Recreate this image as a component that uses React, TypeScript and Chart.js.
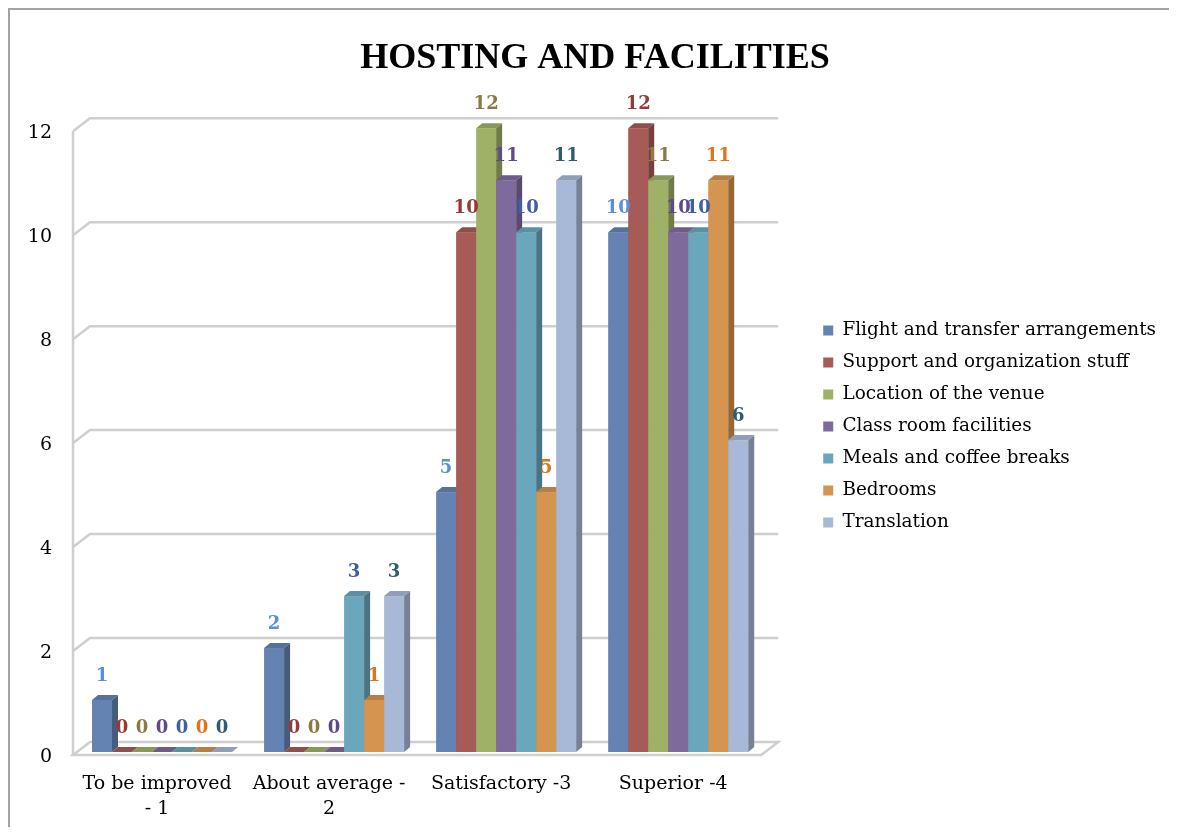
import React, { useEffect, useRef, useState } from 'react';
import { Chart, registerables } from 'chart.js';

Chart.register(...registerables);

// Rating categories (x axis), one bar group each
const categories: string[][] = [['To be improved', '- 1'], ['About average -', '2'], ['Satisfactory -3'], ['Superior -4']];

const seriesNames = [
  'Flight and transfer arrangements',
  'Support and organization stuff',
  'Location of the venue',
  'Class room facilities',
  'Meals and coffee breaks',
  'Bedrooms',
  'Translation',
];

// Number of answers per rating
const flight = [1, 2, 5, 10];
const support = [0, 0, 10, 12];
const venue = [0, 0, 12, 11];
const classRoom = [0, 0, 11, 10];
const meals = [0, 3, 10, 10];
const bedrooms = [0, 1, 5, 11];
const translation = [0, 3, 11, 6];

const yTicks = [0, 2, 4, 6, 8, 10, 12];

const faceColors = ['#6483b3', '#a65b56', '#9fb166', '#7f6a9e', '#6aa6bc', '#d5944f', '#a8b8d7'];
const labelColors = ['#5b8fdc', '#943a37', '#8c7a45', '#5f4a87', '#3f60a0', '#e2731d', '#2e5d70'];

const SERIF = "'DejaVu Serif', serif";
const TEXT_SIZE = 19;
const LEGEND_SIZE = 18.4;
const LEGEND_PAD = 32 - LEGEND_SIZE;

// page geometry of the plot (front bar plane) and the legend
const PLOT_LEFT = 76;
const PLOT_RIGHT = 764;
const LEGEND_LEFT = 823 - LEGEND_PAD;
const TITLE_CENTER = 595;

// bar extrusion (side/top faces)
const BAR_DX = 6;
const BAR_DY = 5;
// wall planes relative to the bar plane
const FRONT = { x: -3, y: 3 };
const BACK = { x: 14, y: -10 };

function shade(hex: string, f: number): string {
  const n = parseInt(hex.slice(1), 16);
  const r = Math.round(((n >> 16) & 255) * f);
  const g = Math.round(((n >> 8) & 255) * f);
  const b = Math.round((n & 255) * f);
  return `rgb(${r},${g},${b})`;
}

const boxes3d = {
  id: 'boxes3d',
  beforeDatasetsDraw(chart: any) {
    const { ctx, chartArea, scales } = chart;
    const { left, right } = chartArea;
    const y = scales.y;
    const y0 = y.getPixelForValue(0);
    const yTop = y.getPixelForValue(yTicks[yTicks.length - 1]);

    ctx.save();
    ctx.strokeStyle = '#cfcfcf';
    ctx.lineWidth = 2.5;

    // floor
    ctx.beginPath();
    ctx.moveTo(left + FRONT.x, y0 + FRONT.y);
    ctx.lineTo(right + FRONT.x, y0 + FRONT.y);
    ctx.lineTo(right + BACK.x, y0 + BACK.y);
    ctx.lineTo(left + BACK.x, y0 + BACK.y);
    ctx.closePath();
    ctx.fillStyle = '#ffffff';
    ctx.fill();
    ctx.stroke();

    // gridlines on the side and back walls
    yTicks.filter((v) => v > 0).forEach((v) => {
      const py = y.getPixelForValue(v);
      ctx.beginPath();
      ctx.moveTo(left + FRONT.x, py + FRONT.y);
      ctx.lineTo(left + BACK.x, py + BACK.y);
      ctx.lineTo(right + BACK.x, py + BACK.y);
      ctx.stroke();
    });

    // front edge of the side wall
    ctx.beginPath();
    ctx.moveTo(left + FRONT.x, yTop + FRONT.y);
    ctx.lineTo(left + FRONT.x, y0 + FRONT.y);
    ctx.stroke();

    // bars, left to right so each front face covers the previous side face
    const n = chart.data.datasets.length;
    const count = chart.data.labels.length;
    for (let j = 0; j < count; j++) {
      for (let i = 0; i < n; i++) {
        const el = chart.getDatasetMeta(i).data[j];
        const { x, y: top, base, width } = el.getProps(['x', 'y', 'base', 'width'], true);
        const l = x - width / 2;
        const r = x + width / 2;
        const c = faceColors[i];
        ctx.fillStyle = c;
        ctx.fillRect(l, top, width, base - top);
        // side
        ctx.beginPath();
        ctx.moveTo(r, top);
        ctx.lineTo(r + BAR_DX, top - BAR_DY);
        ctx.lineTo(r + BAR_DX, base - BAR_DY);
        ctx.lineTo(r, base);
        ctx.closePath();
        ctx.fillStyle = shade(c, 0.7);
        ctx.fill();
        // top
        ctx.beginPath();
        ctx.moveTo(l, top);
        ctx.lineTo(l + BAR_DX, top - BAR_DY);
        ctx.lineTo(r + BAR_DX, top - BAR_DY);
        ctx.lineTo(r, top);
        ctx.closePath();
        ctx.fillStyle = shade(c, 0.86);
        ctx.fill();
      }
    }

    // value labels
    ctx.font = `bold 18px ${SERIF}`;
    ctx.textAlign = 'center';
    ctx.textBaseline = 'middle';
    for (let i = 0; i < n; i++) {
      const ds = chart.data.datasets[i];
      chart.getDatasetMeta(i).data.forEach((el: any, j: number) => {
        ctx.fillStyle = labelColors[i];
        ctx.fillText(String(ds.data[j]), el.x, el.y - 24);
      });
    }
    ctx.restore();
    return false;
  },
};

function legendWidth(): number {
  const m = document.createElement('canvas').getContext('2d')!;
  m.font = `${LEGEND_SIZE}px ${SERIF}`;
  const textW = Math.max(...seriesNames.map((s) => m.measureText(s).width));
  // padding + box + gap + text + the legend's own extra 10px
  return LEGEND_PAD + 10 + LEGEND_SIZE / 2 + textW + 10;
}

export default function App() {
  const ref = useRef<HTMLCanvasElement>(null);
  const [lw] = useState(legendWidth);
  // canvas origin (page x) chosen so the title centres over the whole figure
  const x0 = Math.round(2 * TITLE_CENTER - LEGEND_LEFT - lw);
  const canvasW = Math.round(LEGEND_LEFT + lw - x0);

  useEffect(() => {
    if (!ref.current) return;
    const series = [flight, support, venue, classRoom, meals, bedrooms, translation];

    const chart = new Chart(ref.current, {
      type: 'bar',
      data: {
        labels: categories,
        datasets: series.map((d, i) => ({
          label: seriesNames[i],
          data: d,
          backgroundColor: faceColors[i],
          borderWidth: 0,
          categoryPercentage: 0.814,
          barPercentage: 1,
        })),
      },
      options: {
        responsive: false,
        animation: false,
        layout: { padding: { left: 0, right: 0, top: 16, bottom: 0 } },
        plugins: {
          tooltip: { enabled: false },
          title: {
            display: true,
            text: 'HOSTING AND FACILITIES',
            color: '#000',
            font: { family: "'Liberation Serif', serif", size: 36, weight: 'bold', lineHeight: 1.2 },
            padding: { top: 11, bottom: 48 },
          },
          legend: {
            position: 'right',
            maxWidth: 600,
            labels: {
              boxWidth: 10,
              boxHeight: 10,
              padding: LEGEND_PAD,
              color: '#000',
              font: { family: SERIF, size: LEGEND_SIZE },
            },
          },
        },
        scales: {
          x: {
            offset: true,
            grid: { display: false, drawTicks: false },
            border: { display: false },
            ticks: {
              color: '#000',
              font: { family: SERIF, size: TEXT_SIZE, lineHeight: 25 / TEXT_SIZE },
              padding: 20,
              labelOffset: -5,
              maxRotation: 0,
              autoSkip: false,
            },
            afterFit: (s: any) => {
              s.height = 75;
            },
          },
          y: {
            min: 0,
            max: 12,
            grid: { display: false, drawTicks: false },
            border: { display: false },
            afterBuildTicks: (s: any) => {
              s.ticks = yTicks.map((v) => ({ value: v }));
            },
            ticks: {
              color: '#000',
              font: { family: SERIF, size: TEXT_SIZE },
              padding: 24,
              labelOffset: 5,
            },
            afterFit: (s: any) => {
              s.width = PLOT_LEFT - x0;
            },
          },
          gap: {
            type: 'linear',
            position: 'right',
            display: true,
            grid: { display: false, drawTicks: false },
            border: { display: false },
            ticks: { display: false },
            afterFit: (s: any) => {
              s.width = LEGEND_LEFT - PLOT_RIGHT;
            },
          },
        },
      },
      plugins: [boxes3d],
    } as any);
    return () => chart.destroy();
  }, [x0]);

  return (
    <div
      style={{
        width: 1161,
        height: 819,
        boxSizing: 'border-box',
        borderTop: '2px solid #a3a3a3',
        borderLeft: '2px solid #a3a3a3',
        background: '#fff',
        overflow: 'hidden',
      }}
    >
      <canvas
        ref={ref}
        width={canvasW}
        height={817}
        style={{ display: 'block', marginLeft: x0 - 10 }}
      />
    </div>
  );
}
